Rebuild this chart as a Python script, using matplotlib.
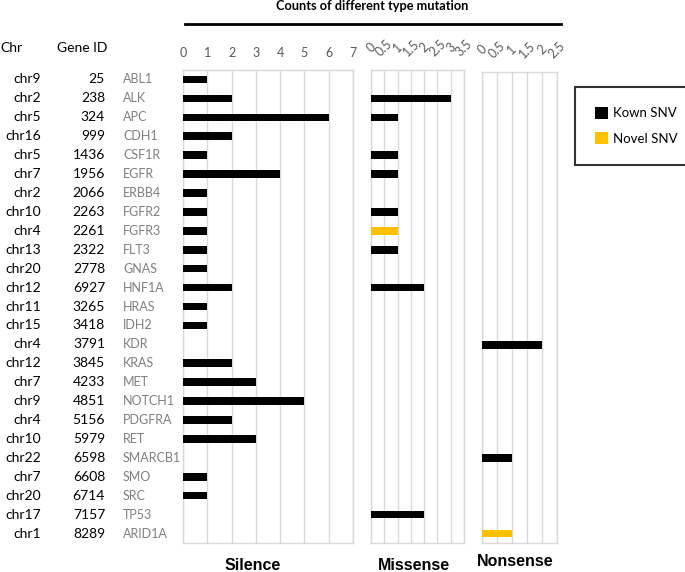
import matplotlib
matplotlib.use("Agg")
import matplotlib.pyplot as plt
from matplotlib.patches import Patch
from matplotlib.transforms import blended_transform_factory
import numpy as np

chrs = ["chr9", "chr2", "chr5", "chr16", "chr5", "chr7", "chr2", "chr10", "chr4", "chr13",
        "chr20", "chr12", "chr11", "chr15", "chr4", "chr12", "chr7", "chr9", "chr4", "chr10",
        "chr22", "chr7", "chr20", "chr17", "chr1"]
gene_ids = ["25", "238", "324", "999", "1436", "1956", "2066", "2263", "2261", "2322",
            "2778", "6927", "3265", "3418", "3791", "3845", "4233", "4851", "5156", "5979",
            "6598", "6608", "6714", "7157", "8289"]
genes = ["ABL1", "ALK", "APC", "CDH1", "CSF1R", "EGFR", "ERBB4", "FGFR2", "FGFR3", "FLT3",
         "GNAS", "HNF1A", "HRAS", "IDH2", "KDR", "KRAS", "MET", "NOTCH1", "PDGFRA", "RET",
         "SMARCB1", "SMO", "SRC", "TP53", "ARID1A"]

silence_known = [1, 2, 6, 2, 1, 4, 1, 1, 1, 1, 1, 2, 1, 1, 0, 2, 3, 5, 2, 3, 0, 1, 1, 0, 0]
silence_novel = [0] * 25
missense_known = [0, 3, 1, 0, 1, 1, 0, 1, 0, 1, 0, 2, 0, 0, 0, 0, 0, 0, 0, 0, 0, 0, 0, 2, 0]
missense_novel = [0, 0, 0, 0, 0, 0, 0, 0, 1, 0, 0, 0, 0, 0, 0, 0, 0, 0, 0, 0, 0, 0, 0, 0, 0]
nonsense_known = [0, 0, 0, 0, 0, 0, 0, 0, 0, 0, 0, 0, 0, 0, 2, 0, 0, 0, 0, 0, 1, 0, 0, 0, 0]
nonsense_novel = [0, 0, 0, 0, 0, 0, 0, 0, 0, 0, 0, 0, 0, 0, 0, 0, 0, 0, 0, 0, 0, 0, 0, 0, 1]

silence_ticks = [0, 1, 2, 3, 4, 5, 6, 7]
missense_ticks = [0, 0.5, 1, 1.5, 2, 2.5, 3, 3.5]
nonsense_ticks = [0, 0.5, 1, 1.5, 2, 2.5]

KNOWN = "#000000"
NOVEL = "#FFC000"
GRID = "#D9D9D9"
W, H = 685, 572

fig = plt.figure(figsize=(W / 100, H / 100), dpi=100)
fig.patch.set_facecolor("white")

def px_axes(x0, x1, ytop, ybot):
    return fig.add_axes([x0 / W, 1 - ybot / H, (x1 - x0) / W, (ybot - ytop) / H])

body_font = "Lato"

def setup(ax, known, novel, ticks, rotate):
    y = np.arange(len(genes))
    ax.barh(y, known, height=0.4, color=KNOWN, zorder=3)
    ax.barh(y, novel, left=known, height=0.4, color=NOVEL, zorder=3)
    ax.set_xlim(ticks[0], ticks[-1])
    ax.set_ylim(24.5, -0.5)
    ax.set_yticks([])
    ax.set_xticks(ticks)
    ax.grid(axis="x", color=GRID, linewidth=1, zorder=0)
    for s in ax.spines.values():
        s.set_color(GRID)
        s.set_linewidth(1)
    ax.xaxis.set_ticks_position("top")
    ax.tick_params(axis="x", length=0, pad=8, labelsize=9, labelcolor="#595959")
    labels = [("%g" % t) for t in ticks]
    if rotate:
        ax.set_xticklabels(labels, rotation=45, ha="center", va="center",
                           rotation_mode="anchor", family=body_font)
        ax.tick_params(axis="x", pad=16)
    else:
        ax.set_xticklabels(labels, family=body_font)

ax_s = px_axes(183, 353, 70, 543)
setup(ax_s, np.array(silence_known), np.array(silence_novel), silence_ticks, False)
ax_m = px_axes(371, 464, 70, 543)
setup(ax_m, np.array(missense_known), np.array(missense_novel), missense_ticks, True)
ax_n = px_axes(482, 557, 72, 543)
setup(ax_n, np.array(nonsense_known), np.array(nonsense_novel), nonsense_ticks, True)

tr = blended_transform_factory(fig.transFigure, ax_s.transData)
for i in range(len(genes)):
    ax_s.text(41 / W, i, chrs[i], transform=tr, ha="right", va="center",
              fontsize=10, family=body_font, color="black")
    ax_s.text(105 / W, i, gene_ids[i], transform=tr, ha="right", va="center",
              fontsize=10, family=body_font, color="black")
    ax_s.text(123 / W, i, genes[i], transform=tr, ha="left", va="center",
              fontsize=9, family=body_font, color="#7F7F7F")

fig.text(0 / W, 1 - 48 / H, "Chr", ha="left", va="center", fontsize=10, family=body_font)
fig.text(57 / W, 1 - 48 / H, "Gene ID", ha="left", va="center", fontsize=10, family=body_font)

fig.text(372 / W, 1 - 6 / H, "Counts of different type mutation", ha="center", va="center",
         fontsize=9.2, fontweight="bold", family=body_font)
fig.add_artist(plt.Line2D([185 / W, 561 / W], [1 - 24 / H, 1 - 24 / H],
                          transform=fig.transFigure, color="black", linewidth=2))

for x, y, t in [(253, 565, "Silence"), (414, 565, "Missense"), (515, 562, "Nonsense")]:
    fig.text(x / W, 1 - y / H, t, ha="center", va="center", fontsize=11.5,
             fontweight="bold", family="Liberation Sans")

handles = [Patch(facecolor=KNOWN, edgecolor="none", label="Kown SNV"),
           Patch(facecolor=NOVEL, edgecolor="none", label="Novel SNV")]
leg = fig.legend(handles=handles, loc="upper left",
                 bbox_to_anchor=(575 / W, 1 - 87 / H), frameon=True, fancybox=False,
                 prop={"family": body_font, "size": 9.5}, handlelength=1.0,
                 handleheight=1.0, handletextpad=0.4, borderpad=1.5, labelspacing=1.0,
                 borderaxespad=0)
leg.get_frame().set_edgecolor("black")
leg.get_frame().set_linewidth(1.5)

fig.savefig("out.png", dpi=100, facecolor="white")
